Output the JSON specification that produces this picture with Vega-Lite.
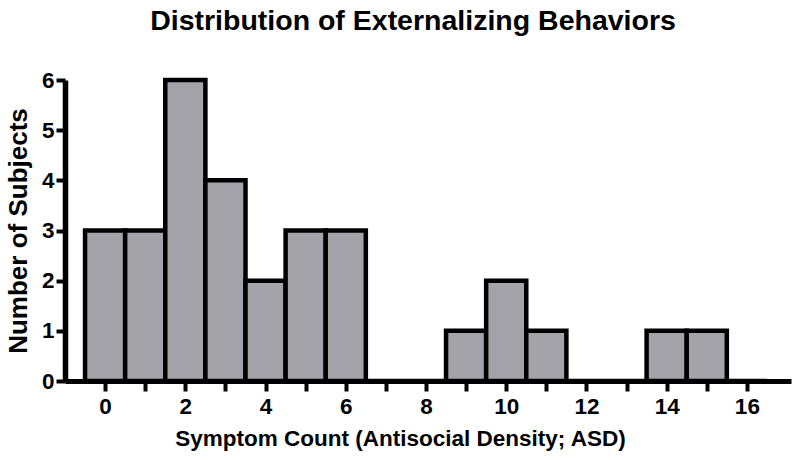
{
  "$schema": "https://vega.github.io/schema/vega-lite/v6.json",
  "width": 726,
  "height": 301,
  "autosize": {"type": "none"},
  "padding": {"left": 65, "top": 80, "right": 9, "bottom": 79},
  "background": "white",
  "title": {
    "text": "Distribution of Externalizing Behaviors",
    "font": "Liberation Sans",
    "fontSize": 28.5,
    "fontWeight": "bold",
    "color": "black",
    "anchor": "middle",
    "dx": -15,
    "offset": 34
  },
  "data": {
    "values": [
      {"symptoms": 0, "bin_start": -0.5, "bin_end": 0.5, "subjects": 3},
      {"symptoms": 1, "bin_start": 0.5, "bin_end": 1.5, "subjects": 3},
      {"symptoms": 2, "bin_start": 1.5, "bin_end": 2.5, "subjects": 6},
      {"symptoms": 3, "bin_start": 2.5, "bin_end": 3.5, "subjects": 4},
      {"symptoms": 4, "bin_start": 3.5, "bin_end": 4.5, "subjects": 2},
      {"symptoms": 5, "bin_start": 4.5, "bin_end": 5.5, "subjects": 3},
      {"symptoms": 6, "bin_start": 5.5, "bin_end": 6.5, "subjects": 3},
      {"symptoms": 7, "bin_start": 6.5, "bin_end": 7.5, "subjects": 0},
      {"symptoms": 8, "bin_start": 7.5, "bin_end": 8.5, "subjects": 0},
      {"symptoms": 9, "bin_start": 8.5, "bin_end": 9.5, "subjects": 1},
      {"symptoms": 10, "bin_start": 9.5, "bin_end": 10.5, "subjects": 2},
      {"symptoms": 11, "bin_start": 10.5, "bin_end": 11.5, "subjects": 1},
      {"symptoms": 12, "bin_start": 11.5, "bin_end": 12.5, "subjects": 0},
      {"symptoms": 13, "bin_start": 12.5, "bin_end": 13.5, "subjects": 0},
      {"symptoms": 14, "bin_start": 13.5, "bin_end": 14.5, "subjects": 1},
      {"symptoms": 15, "bin_start": 14.5, "bin_end": 15.5, "subjects": 1},
      {"symptoms": 16, "bin_start": 15.5, "bin_end": 16.5, "subjects": 0}
    ]
  },
  "mark": {
    "type": "rect",
    "fill": "#a4a3aa",
    "stroke": "black",
    "strokeWidth": 4.5,
    "strokeJoin": "miter"
  },
  "encoding": {
    "x": {
      "field": "bin_start",
      "type": "quantitative",
      "scale": {"domain": [-1, 17.1], "nice": false, "zero": false},
      "axis": {
        "title": "Symptom Count (Antisocial Density; ASD)",
        "values": [0,1,2,3,4,5,6,7,8,9,10,11,12,13,14,15,16],
        "labelExpr": "datum.value % 2 === 0 ? datum.label : ''",
        "grid": false,
        "domain": true,
        "domainColor": "black",
        "domainWidth": 5,
        "tickColor": "black",
        "tickWidth": 4,
        "tickSize": 10,
        "labelFont": "Liberation Sans",
        "labelFontSize": 22.5,
        "labelFontWeight": "bold",
        "labelColor": "black",
        "labelPadding": 4,
        "titleFont": "Liberation Sans",
        "titleFontSize": 22.5,
        "titleFontWeight": "bold",
        "titleColor": "black",
        "titleX": 335,
        "titlePadding": 10,
        "zindex": 1
      }
    },
    "x2": {"field": "bin_end"},
    "y": {
      "field": "subjects",
      "type": "quantitative",
      "scale": {"domain": [0, 6], "nice": false},
      "axis": {
        "title": "Number of Subjects",
        "values": [0,1,2,3,4,5,6],
        "grid": false,
        "domain": true,
        "domainColor": "black",
        "domainWidth": 5.5,
        "tickColor": "black",
        "tickWidth": 4,
        "tickSize": 9,
        "labelFont": "Liberation Sans",
        "labelFontSize": 22.5,
        "labelFontWeight": "bold",
        "labelColor": "black",
        "labelPadding": 2,
        "titleFont": "Liberation Sans",
        "titleFontSize": 26,
        "titleFontWeight": "bold",
        "titleColor": "black",
        "titlePadding": 10,
        "zindex": 1
      }
    },
    "y2": {"datum": 0}
  },
  "config": {"view": {"stroke": null}}
}
